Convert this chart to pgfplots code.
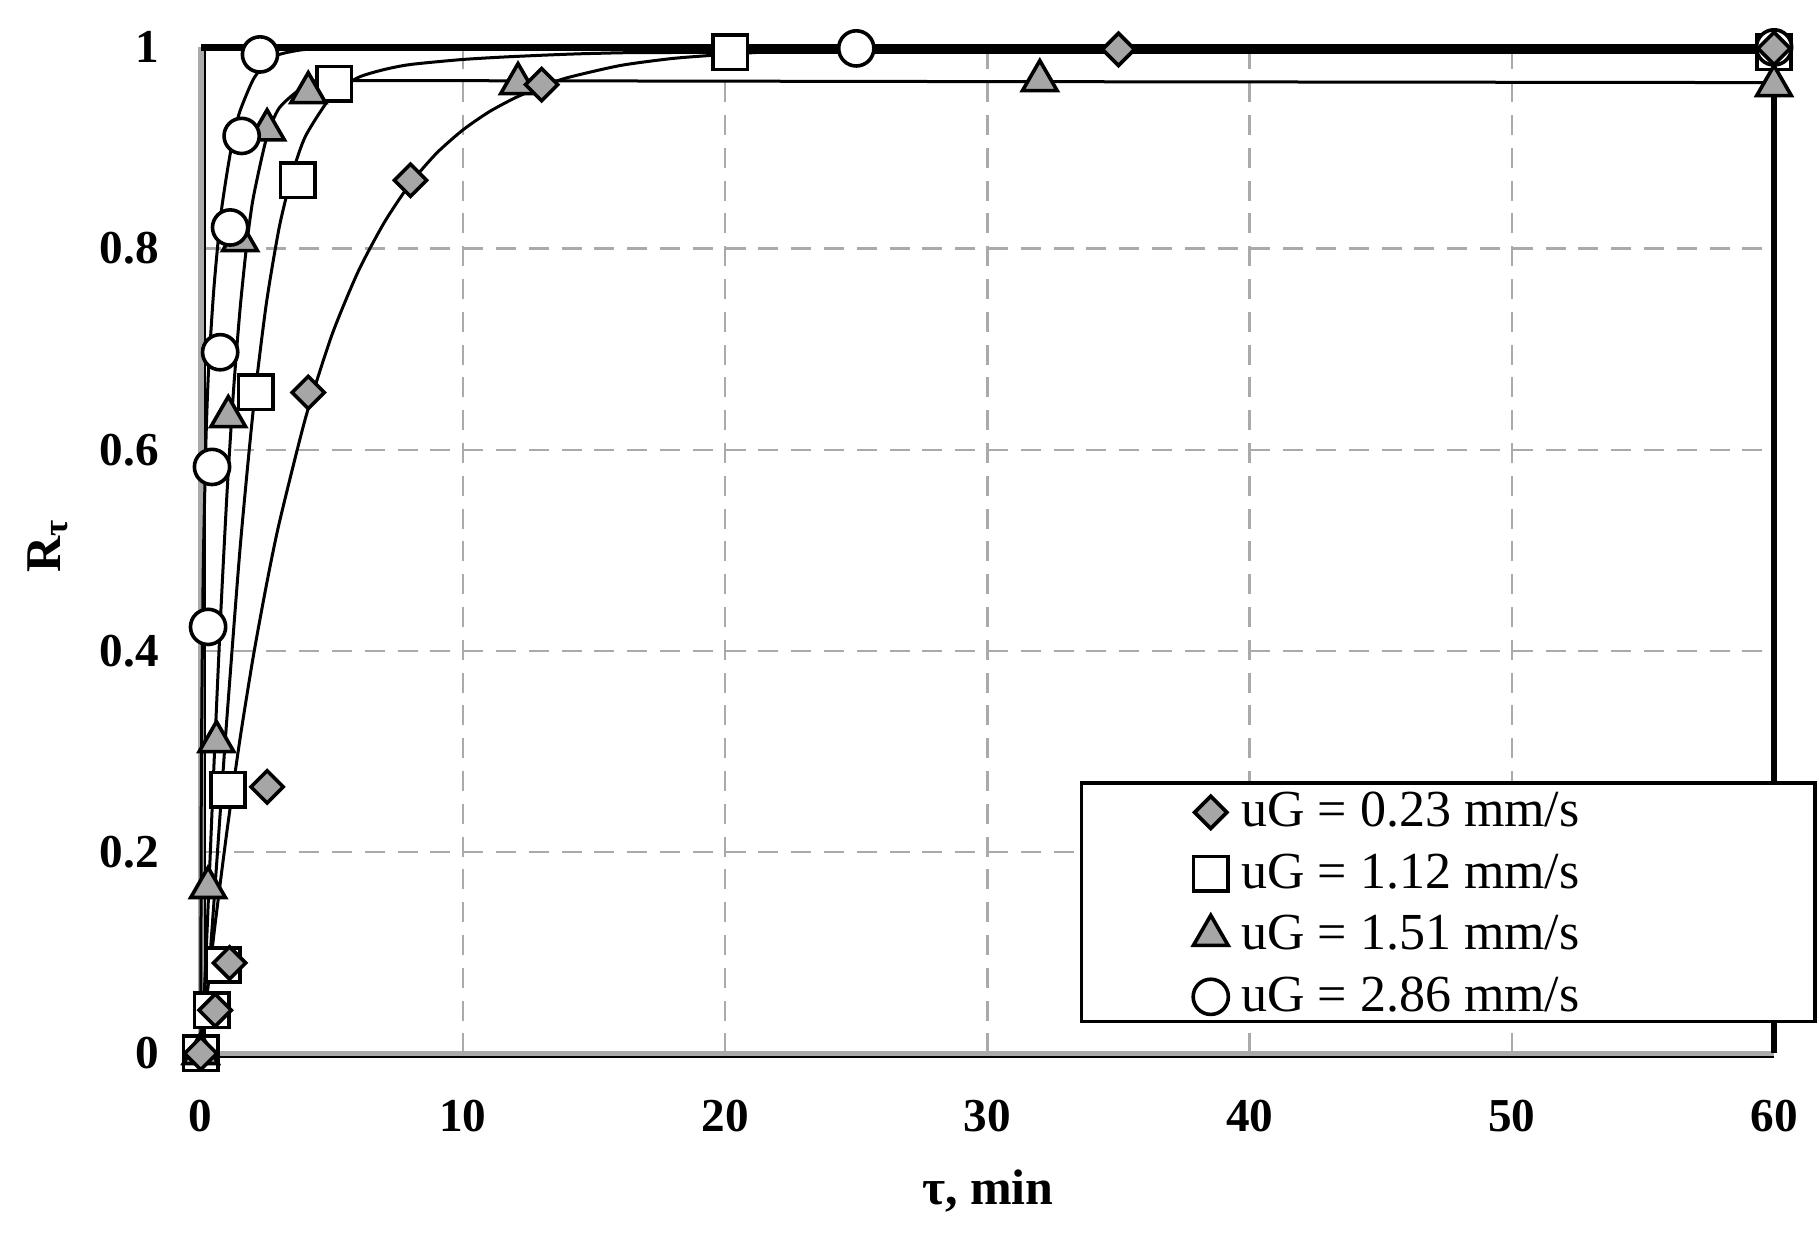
\documentclass[border=0pt]{standalone}
\usepackage{fontspec}
\setmainfont{Liberation Serif}
\usepackage{pgfplots}
\pgfplotsset{compat=1.18}
\definecolor{mkgray}{RGB}{166,166,166}
\definecolor{gridgray}{RGB}{170,170,170}
\begin{document}
\begin{tikzpicture}
\begin{axis}[
  width=393.3pt, height=251.5pt, scale only axis,
  xmin=0, xmax=60, ymin=0, ymax=1,
  clip=false,
  axis line style={draw=none},
  major tick length=0pt,
  xtick={0,10,20,30,40,50,60},
  ytick={0,0.2,0.4,0.6,0.8,1},
  yticklabels={0,0.2,0.4,0.6,0.8,1},
  grid=major,
  grid style={gridgray, line width=0.6pt, dash pattern=on 5pt off 3.2pt},
  /pgf/number format/assume math mode=true,
  ticklabel style={font=\fontsize{11.8}{13}\selectfont\bfseries},
  xticklabel style={anchor=center, yshift=-15.6pt},
  yticklabel style={anchor=east, xshift=-7pt},
  xlabel={τ, min},
  ylabel={R\textsubscript{τ}},
  label style={font=\fontsize{12.5}{14}\selectfont\bfseries},
  xlabel style={at={(axis description cs:0.5004,-0.1368)}, anchor=center},
  ylabel style={at={(axis description cs:-0.0971,0.505)}, anchor=center},
  legend cell align=left,
  legend image code/.code={\draw[#1] plot coordinates {(0cm,0cm)};},
  legend style={draw=none, fill=none, at={(rel axis cs:0.6303,0.263)}, anchor=north west,
    font=\fontsize{13}{14}\selectfont, inner sep=0pt, row sep=4.05pt,
    nodes={inner sep=0.6pt},
    /tikz/every odd column/.append style={column sep=2.6pt}},
  dmd/.style={only marks, mark=square*, mark size=2.85pt, mark options={rotate=45, fill=mkgray, draw=black, line width=0.9pt}},
  sqr/.style={only marks, mark=square*, mark size=4.3pt, mark options={fill=white, draw=black, line width=0.9pt}},
  tri/.style={only marks, mark=triangle*, mark size=5pt, mark options={fill=mkgray, draw=black, line width=0.9pt}},
  crc/.style={only marks, mark=*, mark size=4.4pt, mark options={fill=white, draw=black, line width=0.9pt}},
]
% frame
\draw[black, line width=0.8pt] ([xshift=0.9pt]axis cs:0,0) -- ([xshift=0.9pt]axis cs:0,1);
\draw[gridgray, line width=1.4pt] (axis cs:0,0) -- (axis cs:0,1);
\draw[black, line width=0.7pt] ([yshift=-0.9pt]axis cs:0,0) -- ([yshift=-0.9pt]axis cs:60,0);
\draw[gridgray, line width=1.1pt] (axis cs:0,0) -- (axis cs:60,0);
\draw[black, line width=1.7pt] (axis cs:0,1) -- (axis cs:60,1) -- (axis cs:60,0);

% legend images (in legend order)
\addlegendimage{dmd}\addlegendentry{uG = 0.23 mm/s}
\addlegendimage{sqr}\addlegendentry{uG = 1.12 mm/s}
\addlegendimage{tri}\addlegendentry{uG = 1.51 mm/s}
\addlegendimage{crc}\addlegendentry{uG = 2.86 mm/s}

% markers
\addplot[sqr, forget plot]
 coordinates {(0,0) (0.42,0.043) (0.85,0.088) (1.04,0.262) (2.1,0.657) (3.7,0.868) (5.1,0.964) (20.2,0.995) (60,0.995)};
\addplot[tri, forget plot]
 coordinates {(0,0) (0.28,0.165) (0.6,0.31) (1.05,0.633) (1.5,0.808) (2.53,0.918) (4.1,0.955) (12.1,0.964) (32,0.967) (60,0.962)};
\addplot[crc, forget plot]
 coordinates {(0.28,0.424) (0.43,0.583) (0.74,0.697) (1.12,0.821) (1.56,0.912) (2.26,0.993) (25,0.999) (60,1.0)};
\addplot[dmd, forget plot]
 coordinates {(0,0) (0.55,0.043) (1.1,0.09) (2.53,0.265) (4.1,0.657) (8,0.868) (13,0.963) (35,0.998) (60,0.999)};

% fitted curves
\addplot[forget plot, black, line width=0.75pt, smooth, tension=0.4, no marks]
 coordinates {(0,0)(0.5,0.118)(1,0.221)(1.5,0.313)(2,0.394)(2.5,0.465)(3,0.528)(4,0.632)(5,0.714)(6,0.777)(7,0.826)(8,0.865)(9,0.895)(10,0.918)(11,0.936)(12,0.950)(13,0.961)(14,0.970)(16,0.982)(18,0.989)(20,0.993)(22,0.996)(25,0.998)(30,0.999)(40,1)(60,1)};
\addplot[forget plot, black, line width=0.75pt, smooth, tension=0.4, no marks]
 coordinates {(0,0)(0.25,0.062)(0.5,0.149)(0.75,0.242)(1,0.334)(1.5,0.502)(2,0.639)(2.5,0.745)(3,0.822)(3.5,0.875)(4,0.912)(5,0.952)(6,0.970)(7,0.978)(8,0.983)(10,0.988)(12,0.991)(15,0.994)(20,0.995)(60,0.995)};
\addplot[forget plot, black, line width=0.75pt, smooth, tension=0.4, no marks]
 coordinates {(0,0)(0.1,0.041)(0.25,0.127)(0.5,0.284)(0.75,0.430)(1,0.556)(1.25,0.659)(1.5,0.740)(1.75,0.803)(2,0.850)(2.5,0.909)(3,0.940)(4,0.962)(5,0.966)(6,0.967)(30,0.966)(60,0.965)};
\addplot[forget plot, black, line width=0.75pt, smooth, tension=0.4, no marks]
 coordinates {(0,0)(0.02,0.25)(0.05,0.37)(0.1,0.49)(0.2,0.61)(0.3,0.68)(0.5,0.76)(0.75,0.83)(1,0.875)(1.25,0.912)(1.5,0.937)(2,0.968)(2.5,0.985)(3,0.993)(4,0.998)(6,1)(60,1)};

% legend box
\draw[black, line width=0.85pt, fill=white] (rel axis cs:0.560,0.032) rectangle (rel axis cs:1.026,0.269);

\coordinate (bbsw) at (rel axis cs:-0.1276,-0.1825);
\coordinate (bbne) at (rel axis cs:1.0286,1.0471);
\end{axis}
\pgfresetboundingbox
\path (bbsw) rectangle (bbne);
\end{tikzpicture}
\end{document}
